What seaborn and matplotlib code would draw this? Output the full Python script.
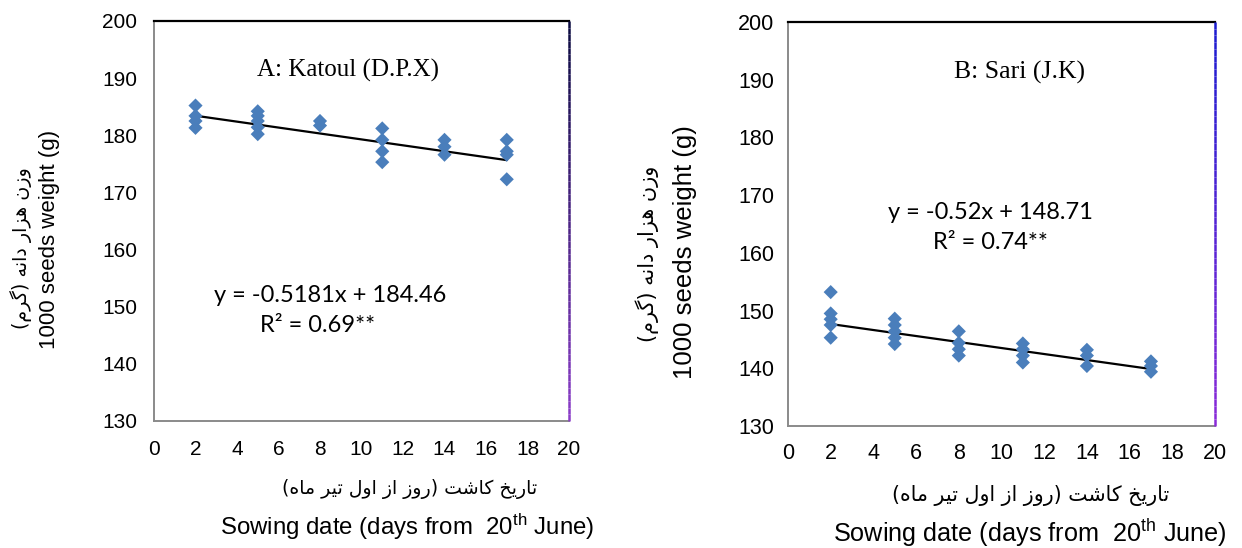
import numpy as np
import pandas as pd
import matplotlib
matplotlib.use("Agg")
import matplotlib.pyplot as plt
from matplotlib.collections import LineCollection
from matplotlib.colors import LinearSegmentedColormap
import seaborn as sns

# ---- data -------------------------------------------------------------
katoul_day = [2, 2, 2, 2,
              5, 5, 5, 5, 5,
              8, 8,
              11, 11, 11, 11,
              14, 14, 14,
              17, 17, 17, 17]
katoul_weight = [185.2, 183.4, 182.5, 181.3,
                 184.2, 183.4, 182.5, 181.4, 180.2,
                 182.5, 181.7,
                 181.2, 179.2, 177.2, 175.3,
                 179.2, 178.0, 176.6,
                 179.2, 177.2, 176.6, 172.3]
katoul_slope, katoul_intercept, katoul_r2 = -0.5181, 184.46, "0.69**"

sari_day = [2, 2, 2, 2, 2,
            5, 5, 5, 5, 5,
            8, 8, 8, 8,
            11, 11, 11, 11,
            14, 14, 14,
            17, 17, 17]
sari_weight = [153.2, 149.5, 148.5, 147.5, 145.3,
               148.6, 147.5, 146.4, 145.3, 144.2,
               146.4, 144.4, 143.3, 142.2,
               144.3, 143.3, 142.2, 141.0,
               143.2, 142.2, 140.4,
               141.2, 140.4, 139.4]
sari_slope, sari_intercept, sari_r2 = -0.52, 148.71, "0.74**"

fit_range = [2, 17]
x_ticks = list(range(0, 21, 2))
y_ticks = list(range(130, 201, 10))

# ---- simple Persian shaping (presentation forms, visual order) ---------
# letter: (isolated, final, initial, medial); None for right-joining letters
FORMS = {
    "ا": ("\uFE8D", "\uFE8E", None, None),
    "د": ("\uFEA9", "\uFEAA", None, None),
    "ر": ("\uFEAD", "\uFEAE", None, None),
    "ز": ("\uFEAF", "\uFEB0", None, None),
    "و": ("\uFEED", "\uFEEE", None, None),
    "ت": ("\uFE95", "\uFE96", "\uFE97", "\uFE98"),
    "خ": ("\uFEA5", "\uFEA6", "\uFEA7", "\uFEA8"),
    "ش": ("\uFEB5", "\uFEB6", "\uFEB7", "\uFEB8"),
    "ل": ("\uFEDD", "\uFEDE", "\uFEDF", "\uFEE0"),
    "م": ("\uFEE1", "\uFEE2", "\uFEE3", "\uFEE4"),
    "ن": ("\uFEE5", "\uFEE6", "\uFEE7", "\uFEE8"),
    "ه": ("\uFEE9", "\uFEEA", "\uFEEB", "\uFEEC"),
    "ی": ("\uFBFC", "\uFBFD", "\uFBFE", "\uFBFF"),
    "ک": ("\uFB8E", "\uFB8F", "\uFB90", "\uFB91"),
    "گ": ("\uFB92", "\uFB93", "\uFB94", "\uFB95"),
}


def shape_fa(text):
    out = []
    for i, ch in enumerate(text):
        if ch not in FORMS:
            out.append(ch)
            continue
        prev = text[i - 1] if i > 0 else ""
        nxt = text[i + 1] if i + 1 < len(text) else ""
        joins_prev = prev in FORMS and FORMS[prev][2] is not None
        joins_next = FORMS[ch][2] is not None and nxt in FORMS
        iso, fin, ini, med = FORMS[ch]
        if joins_prev and joins_next:
            out.append(med)
        elif joins_prev:
            out.append(fin)
        elif joins_next:
            out.append(ini)
        else:
            out.append(iso)
    mirror = {"(": ")", ")": "("}
    return "".join(mirror.get(c, c) for c in reversed(out))


ylabel_fa = shape_fa("وزن هزار دانه (گرم)")
xlabel_fa = shape_fa("تاریخ کاشت (روز از اول تیر ماه)")
ylabel_en = "1000 seeds weight (g)"
xlabel_en = r"Sowing date (days from  20$^{\mathrm{th}}$ June)"

# ---- style ------------------------------------------------------------
sns.set_theme(style="white")
plt.rcParams["font.family"] = ["Liberation Sans", "DejaVu Sans"]
plt.rcParams["mathtext.fontset"] = "custom"
plt.rcParams["mathtext.rm"] = "Liberation Sans"
plt.rcParams["mathtext.it"] = "Liberation Sans:italic"
plt.rcParams["text.color"] = "black"

marker_color = "#4A7EBB"

fig = plt.figure(figsize=(12.42, 5.48), dpi=100)


def fx(px):
    return px / 1242


def fy(py):
    return 1 - py / 548


ax_a = fig.add_axes([fx(154), fy(421), 415 / 1242, 400 / 548])
ax_b = fig.add_axes([fx(788), fy(426), 427 / 1242, 404 / 548])

panels = [
    dict(ax=ax_a, days=katoul_day, weights=katoul_weight, slope=katoul_slope,
         intercept=katoul_intercept, r2=katoul_r2, title="A: Katoul (D.P.X)",
         title_xy=(348, 70), title_fs=18, eq_xy=(330, 295), r2_xy=(318, 325),
         eq_fs=17, tick_fs=15, xpad=14, ypad=12,
         edge=("#0a0a40", "#8a3cc8"),
         ylab_en=(50, 239, 16), ylab_fa=(21, 248, 13.8),
         xlab_fa=(410, 489, 13.6), xlab_en=(407, 527, 17.3)),
    dict(ax=ax_b, days=sari_day, weights=sari_weight, slope=sari_slope,
         intercept=sari_intercept, r2=sari_r2, title="B: Sari (J.K)",
         title_xy=(1020, 72), title_fs=18.5, eq_xy=(990, 212), r2_xy=(990, 242),
         eq_fs=17, tick_fs=15.5, xpad=12, ypad=10,
         edge=("#1c1cd0", "#8a2ad8"),
         ylab_en=(685, 252, 18.5), ylab_fa=(647, 254, 15),
         xlab_fa=(1031, 495, 14.8), xlab_en=(1030, 533, 18.2)),
]

for p in panels:
    ax = p["ax"]
    df = pd.DataFrame({"day": p["days"], "weight": p["weights"]})
    sns.scatterplot(data=df, x="day", y="weight", ax=ax, marker="D", s=52,
                    color=marker_color, edgecolor="none", zorder=3)
    fit = pd.DataFrame({"day": fit_range,
                        "weight": [p["slope"] * d + p["intercept"]
                                   for d in fit_range]})
    sns.lineplot(data=fit, x="day", y="weight", ax=ax, color="black",
                 linewidth=1.6, zorder=2)

    ax.set_xlim(0, 20)
    ax.set_ylim(130, 200)
    ax.set_xticks(x_ticks)
    ax.set_yticks(y_ticks)
    ax.tick_params(axis="both", length=0, labelsize=p["tick_fs"],
                   colors="black")
    ax.tick_params(axis="x", pad=p["xpad"])
    ax.tick_params(axis="y", pad=p["ypad"])
    ax.set_xlabel("")
    ax.set_ylabel("")
    ax.grid(False)

    ax.spines["top"].set_color("black")
    ax.spines["top"].set_linewidth(1.6)
    for side in ("left", "bottom"):
        ax.spines[side].set_color("#8a8a8a")
        ax.spines[side].set_linewidth(1.4)
    ax.spines["right"].set_visible(False)

    # right border drawn with a colour gradient
    n = 60
    ys = np.linspace(1, 0, n + 1)
    segs = [[(1, ys[i]), (1, ys[i + 1])] for i in range(n)]
    cmap = LinearSegmentedColormap.from_list("edge", list(p["edge"]))
    lc = LineCollection(segs, colors=[cmap(i / (n - 1)) for i in range(n)],
                        linewidths=1.8, transform=ax.transAxes, clip_on=False,
                        zorder=5)
    ax.add_collection(lc)

    # panel title and regression equation
    fig.text(fx(p["title_xy"][0]), fy(p["title_xy"][1]), p["title"],
             ha="center", va="center", fontsize=p["title_fs"],
             family="Liberation Serif")
    fig.text(fx(p["eq_xy"][0]), fy(p["eq_xy"][1]),
             f"y = {p['slope']}x + {p['intercept']}",
             ha="center", va="center", fontsize=p["eq_fs"], family="Lato")
    fig.text(fx(p["r2_xy"][0]), fy(p["r2_xy"][1]), f"R² = {p['r2']}",
             ha="center", va="center", fontsize=p["eq_fs"], family="Lato")

    # axis titles
    x, y, fs = p["ylab_en"]
    fig.text(fx(x), fy(y), ylabel_en, rotation=90, ha="center", va="center",
             fontsize=fs)
    x, y, fs = p["ylab_fa"]
    fig.text(fx(x), fy(y), ylabel_fa, rotation=90, ha="center", va="center",
             fontsize=fs, family="DejaVu Sans")
    x, y, fs = p["xlab_fa"]
    fig.text(fx(x), fy(y), xlabel_fa, ha="center", va="center", fontsize=fs,
             family="DejaVu Sans")
    x, y, fs = p["xlab_en"]
    fig.text(fx(x), fy(y), xlabel_en, ha="center", va="center", fontsize=fs)

fig.savefig("out.png", dpi=100, facecolor="white")
